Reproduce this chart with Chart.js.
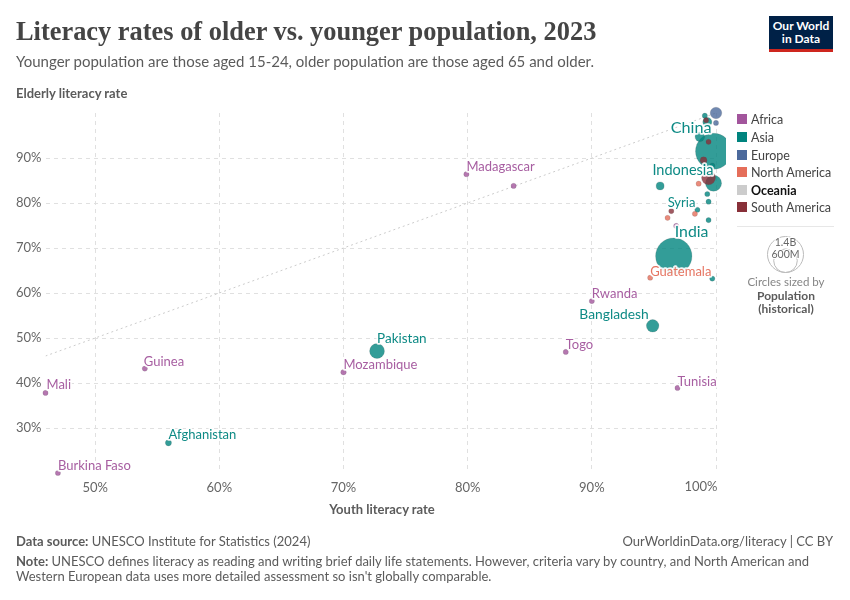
<!DOCTYPE html>
<html>
<head>
<meta charset="utf-8">
<title>Literacy rates of older vs. younger population, 2023</title>
<script src="https://cdn.jsdelivr.net/npm/chart.js"></script>
<style>
  html, body { margin: 0; padding: 0; background: #fff; }
  body { width: 850px; height: 600px; position: relative; overflow: hidden; font-family: Lato, sans-serif; color: #5b5b5b; }
  canvas { position: absolute; left: 0; top: 0; }
  .t { position: absolute; white-space: nowrap; }
  #title { left: 16px; top: 16px; font: bold 26.4px "Liberation Serif", serif; color: #444; }
  #subtitle { left: 16px; top: 52px; font-size: 15px; }
  #ytitle { left: 16px; top: 85px; font-size: 13px; font-weight: bold; }
  #xtitle { left: 282px; width: 200px; text-align: center; top: 501px; font-size: 13px; font-weight: bold; }
  #logo { position: absolute; left: 769px; top: 16px; width: 64px; padding-top: 3px; height: 30px; background: #002147; border-bottom: 3px solid #ce261e; color: #fff; text-align: center; font-size: 12px; font-weight: bold; line-height: 13px; }
  #source { left: 16px; top: 533px; font-size: 13px; }
  #site { right: 17px; top: 533px; font-size: 13px; }
  #note { left: 16px; top: 554px; font-size: 13px; line-height: 15px; }
  .sw { position: absolute; left: 737px; width: 10px; height: 10px; }
  .lg { position: absolute; left: 751px; font-size: 12.5px; color: #444; white-space: nowrap; }
  #divider { position: absolute; left: 737px; width: 97px; top: 226px; height: 1px; background: #e7e7e7; }
  #sizes { position: absolute; left: 736px; top: 230px; }
  .c { left: 736px; width: 100px; text-align: center; font-size: 11.5px; }
</style>
</head>
<body>
<canvas id="chart" width="850" height="600"></canvas>
<div class="t" id="title">Literacy rates of older vs. younger population, 2023</div>
<div class="t" id="subtitle">Younger population are those aged 15-24, older population are those aged 65 and older.</div>
<div class="t" id="ytitle">Elderly literacy rate</div>
<div class="t" id="xtitle">Youth literacy rate</div>
<div id="logo">Our World<br>in Data</div>
<div id="legend"></div>
<div id="divider"></div>
<svg id="sizes" width="100" height="46"></svg>
<div class="t c" style="top:275px;color:#858585">Circles sized by</div>
<div class="t c" style="top:289px;font-weight:bold;font-size:12px;line-height:13px">Population<br>(historical)</div>
<div class="t" id="source"><b>Data source:</b> UNESCO Institute for Statistics (2024)</div>
<div class="t" id="site">OurWorldinData.org/literacy | CC BY</div>
<div class="t" id="note"><b>Note:</b> UNESCO defines literacy as reading and writing brief daily life statements. However, criteria vary by country, and North American and<br>Western European data uses more detailed assessment so isn't globally comparable.</div>
<script>
// values, population in millions
const africaNames = ['Madagascar', '', 'Rwanda', 'Togo', 'Tunisia', 'Mozambique', 'Guinea', 'Mali', 'Burkina Faso', ''];
const africaYouth = [79.9, 83.7, 90, 87.9, 96.9, 70, 54, 46, 47, 96.8];
const africaElderly = [86.4, 83.8, 58.2, 46.9, 38.9, 42.4, 43.2, 37.8, 20, 74.9];
const africaPop = [30, 30, 14, 9, 12, 33, 14, 23, 23, 30];

const asiaNames = ['China', 'India', 'Indonesia', 'Pakistan', 'Bangladesh', '', '', 'Afghanistan', 'Syria', '', '', '', '', '', '', ''];
const asiaYouth = [99.8, 96.6, 99.8, 72.7, 94.9, 98.7, 95.5, 55.9, 98.5, 99.3, 99.1, 99.7, 99.3, 99.4, 99.4, 99.7];
const asiaElderly = [91.5, 68.2, 84.4, 47.1, 52.7, 94.7, 83.8, 26.7, 78.5, 98, 99.4, 88.3, 82, 80.3, 76.2, 63.2];
const asiaPop = [1400, 1430, 280, 240, 170, 100, 70, 41, 24, 90, 10, 30, 15, 15, 10, 10];

const europeNames = ['', ''];
const europeYouth = [100, 100];
const europeElderly = [100, 97.8];
const europePop = [145, 20];

const northAmericaNames = ['Guatemala', '', '', ''];
const northAmericaYouth = [94.7, 98.6, 98.3, 96.1];
const northAmericaElderly = [63.4, 84.3, 77.6, 76.7];
const northAmericaPop = [18, 12, 18, 18];

const southAmericaNames = ['', '', '', '', ''];
const southAmericaYouth = [99.4, 99, 99.4, 99.2, 96.4];
const southAmericaElderly = [85.6, 89.5, 93.6, 98.4, 78.2];
const southAmericaPop = [210, 50, 18, 12, 12];

const continents = ['Africa', 'Asia', 'Europe', 'North America', 'Oceania', 'South America'];
const xTicks = [50, 60, 70, 80, 90, 100];
const yTicks = [30, 40, 50, 60, 70, 80, 90];
const sizeLegend = [1400, 600];

const colors = {
  'Africa': '#A2559C',
  'Asia': '#00847E',
  'Europe': '#4C6A9C',
  'North America': '#E56E5A',
  'Oceania': '#cccccc',
  'South America': '#883039'
};

// where each country label sits relative to its bubble
const labelPlace = {
  'Madagascar': { dy: -7 },
  'Rwanda': { dy: -7 },
  'Togo': { dy: -7 },
  'Tunisia': { dy: -6 },
  'Mozambique': { dy: -7 },
  'Guinea': { dx: -1, dy: -7 },
  'Mali': { dx: 1, dy: -8 },
  'Burkina Faso': { dy: -7 },
  'China': { dx: -2, dy: -23, size: 16.2, align: 'right' },
  'India': { dx: 1, dy: -24, size: 15.8 },
  'Indonesia': { dy: -13, size: 14.5, align: 'right' },
  'Pakistan': { dy: -12, size: 13.5 },
  'Bangladesh': { dx: -4, dy: -11, size: 13.8, align: 'right' },
  'Afghanistan': { dy: -8 },
  'Syria': { dx: -2, dy: -7, align: 'right' },
  'Guatemala': { dy: -6 }
};

const maxRadius = 18;
const minRadius = 2.6;
const radiusFor = pop => Math.max(minRadius, maxRadius * Math.sqrt(pop / 1400));

function toPoints(names, xs, ys, pops) {
  return names.map((name, i) => ({ x: xs[i], y: ys[i], r: radiusFor(pops[i]), name }));
}

function bubbleSet(label, names, xs, ys, pops, order) {
  const data = toPoints(names, xs, ys, pops);
  return {
    label,
    data,
    order,
    backgroundColor: colors[label] + 'cc',
    borderColor: 'rgba(70,70,70,0.3)',
    borderWidth: 0.5,
    hoverRadius: 0,
    clip: { left: 20, top: 20, right: 10, bottom: 20 }
  };
}

const labelPlugin = {
  id: 'countryLabels',
  afterDatasetsDraw(chart) {
    const ctx = chart.ctx;
    ctx.save();
    ctx.textBaseline = 'middle';
    chart.data.datasets.forEach((ds, i) => {
      if (ds.type === 'line') return;
      const meta = chart.getDatasetMeta(i);
      ds.data.forEach((p, j) => {
        if (!p.name) return;
        const place = labelPlace[p.name] || {};
        const el = meta.data[j];
        const x = el.x + (place.dx || 0);
        const y = el.y + (place.dy || 0);
        ctx.font = (place.size || 13) + 'px Lato';
        ctx.textAlign = place.align || 'left';
        ctx.lineWidth = 3.5;
        ctx.lineJoin = 'round';
        ctx.strokeStyle = 'rgba(255,255,255,0.9)';
        ctx.strokeText(p.name, x, y);
        ctx.fillStyle = colors[ds.label];
        ctx.globalAlpha = 0.95;
        ctx.fillText(p.name, x, y);
        ctx.globalAlpha = 1;
      });
    });
    // the 100% tick is pulled left so it stays clear of the legend side
    ctx.font = '13px Lato';
    ctx.fillStyle = '#666';
    ctx.textAlign = 'right';
    ctx.fillText('100%', chart.scales.x.getPixelForValue(100) + 1.5, 487);
    ctx.restore();
  }
};

new Chart(document.getElementById('chart'), {
  type: 'bubble',
  data: {
    datasets: [
      bubbleSet('South America', southAmericaNames, southAmericaYouth, southAmericaElderly, southAmericaPop, 1),
      bubbleSet('Africa', africaNames, africaYouth, africaElderly, africaPop, 2),
      bubbleSet('North America', northAmericaNames, northAmericaYouth, northAmericaElderly, northAmericaPop, 3),
      bubbleSet('Europe', europeNames, europeYouth, europeElderly, europePop, 4),
      bubbleSet('Asia', asiaNames, asiaYouth, asiaElderly, asiaPop, 5),
      {
        type: 'line',
        label: 'Equal rates',
        data: [{ x: 46, y: 46 }, { x: 100, y: 100 }],
        borderColor: '#cccccc',
        borderWidth: 1,
        borderDash: [2, 3],
        pointRadius: 0,
        order: 6
      }
    ]
  },
  options: {
    responsive: false,
    animation: false,
    events: [],
    layout: { padding: { left: 0, top: 113, right: 134, bottom: 0 } },
    plugins: { legend: { display: false }, tooltip: { enabled: false } },
    scales: {
      x: {
        type: 'linear',
        min: 46,
        max: 100,
        afterBuildTicks: s => { s.ticks = xTicks.map(value => ({ value })); },
        afterFit: s => { s.height = 127; },
        border: { display: false, dash: [4, 4] },
        grid: { color: '#e0e0e0', drawTicks: false },
        ticks: {
          padding: 7,
          maxRotation: 0,
          autoSkip: false,
          color: '#666',
          font: { family: 'Lato', size: 13 },
          callback: v => (v === 100 ? '' : v + '%')
        }
      },
      y: {
        type: 'linear',
        min: 20,
        max: 100,
        afterBuildTicks: s => { s.ticks = yTicks.map(value => ({ value })); },
        afterFit: s => { s.width = 45.5; },
        border: { display: false, dash: [4, 4] },
        grid: { color: '#e0e0e0', drawTicks: false },
        ticks: {
          padding: 4,
          autoSkip: false,
          color: '#666',
          font: { family: 'Lato', size: 13 },
          callback: v => v + '%'
        }
      }
    }
  },
  plugins: [labelPlugin]
});

// html legend
const legendRows = [120, 138, 156, 173, 191, 208];
const legendEl = document.getElementById('legend');
continents.forEach((name, i) => {
  const sw = document.createElement('div');
  sw.className = 'sw';
  sw.style.top = (legendRows[i] - 6) + 'px';
  sw.style.background = colors[name];
  legendEl.appendChild(sw);
  const lg = document.createElement('div');
  lg.className = 'lg';
  lg.style.top = (legendRows[i] - 8) + 'px';
  lg.textContent = name;
  if (name === 'Oceania') { lg.style.fontWeight = 'bold'; lg.style.color = '#111'; }
  legendEl.appendChild(lg);
});

// size key, same scale as the bubbles
const svgNs = 'http://www.w3.org/2000/svg';
const sizes = document.getElementById('sizes');
const sizeNames = ['1.4B', '600M'];
sizeLegend.forEach((pop, i) => {
  const r = radiusFor(pop);
  const c = document.createElementNS(svgNs, 'circle');
  c.setAttribute('cx', 49.5);
  c.setAttribute('cy', 42.5 - r);
  c.setAttribute('r', r);
  c.setAttribute('fill', 'none');
  c.setAttribute('stroke', '#bbb');
  sizes.appendChild(c);
  const t = document.createElementNS(svgNs, 'text');
  t.setAttribute('x', 49.5);
  t.setAttribute('y', 42.5 - 2 * r + 9);
  t.setAttribute('text-anchor', 'middle');
  t.setAttribute('font-size', '10.5');
  t.setAttribute('fill', '#666');
  t.setAttribute('stroke', '#fff');
  t.setAttribute('stroke-width', '2');
  t.setAttribute('paint-order', 'stroke');
  t.textContent = sizeNames[i];
  sizes.appendChild(t);
});
</script>
</body>
</html>
